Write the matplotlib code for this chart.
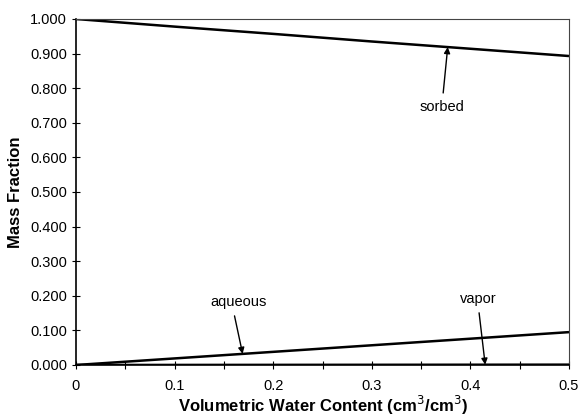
import matplotlib
matplotlib.use("Agg")
import matplotlib.pyplot as plt
from matplotlib.ticker import MultipleLocator, FormatStrFormatter

plt.rcParams['font.family'] = ['Liberation Sans', 'DejaVu Sans']

# Mass fraction partitioning vs. volumetric water content
theta = [0.0, 0.1, 0.2, 0.3, 0.4, 0.5]
sorbed = [1.000, 0.978, 0.957, 0.935, 0.914, 0.893]
aqueous = [0.000, 0.019, 0.038, 0.057, 0.076, 0.095]
vapor = [0.000, 0.0002, 0.0004, 0.0006, 0.0008, 0.0010]

fig = plt.figure(figsize=(5.81, 4.17), dpi=100)
ax = fig.add_axes([76 / 581, 52 / 417, 493 / 581, 346 / 417])

for series in (sorbed, aqueous, vapor):
    ax.plot(theta, series, color='black', lw=1.8, solid_capstyle='butt')

ax.set_xlim(0, 0.5)
ax.set_ylim(0, 1.0)
ax.xaxis.set_major_locator(MultipleLocator(0.1))
ax.xaxis.set_minor_locator(MultipleLocator(0.05))
ax.yaxis.set_major_locator(MultipleLocator(0.1))
ax.xaxis.set_major_formatter(plt.FuncFormatter(lambda v, p: '0' if v == 0 else f'{v:.1f}'))
ax.yaxis.set_major_formatter(FormatStrFormatter('%.3f'))
ax.tick_params(which='both', direction='inout', length=6, width=0.8, labelsize=10.5)
ax.tick_params(axis='x', which='major', pad=7)

for side in ('left', 'bottom'):
    ax.spines[side].set_linewidth(1.2)
for side in ('top', 'right'):
    ax.spines[side].set_linewidth(0.8)
    ax.spines[side].set_color('#444444')

ax.set_xlabel('Volumetric Water Content (cm$^3$/cm$^3$)', fontsize=12,
              fontweight='bold', labelpad=1)
ax.set_ylabel('Mass Fraction', fontsize=12, fontweight='bold', labelpad=5)


def on_line(xs, ys, x):
    # linear interpolation along a plotted series
    for i in range(len(xs) - 1):
        if xs[i] <= x <= xs[i + 1]:
            t = (x - xs[i]) / (xs[i + 1] - xs[i])
            return ys[i] + t * (ys[i + 1] - ys[i])
    return ys[-1]


arrow = dict(arrowstyle='-|>', color='black', lw=1.0, mutation_scale=9,
             shrinkA=3, shrinkB=0)
ax.annotate('sorbed', xy=(0.377, on_line(theta, sorbed, 0.377)),
            xytext=(0.371, 0.746), ha='center', va='center', fontsize=10.5,
            arrowprops=arrow)
ax.annotate('aqueous', xy=(0.169, on_line(theta, aqueous, 0.169)),
            xytext=(0.165, 0.182), ha='center', va='center', fontsize=10.5,
            arrowprops=dict(arrow, relpos=(0.4, 0.0)))
ax.annotate('vapor', xy=(0.415, on_line(theta, vapor, 0.415)),
            xytext=(0.408, 0.191), ha='center', va='center', fontsize=10.5,
            arrowprops=dict(arrow, relpos=(0.5, 0.0)))

fig.savefig('out.png', dpi=100, facecolor='white')
